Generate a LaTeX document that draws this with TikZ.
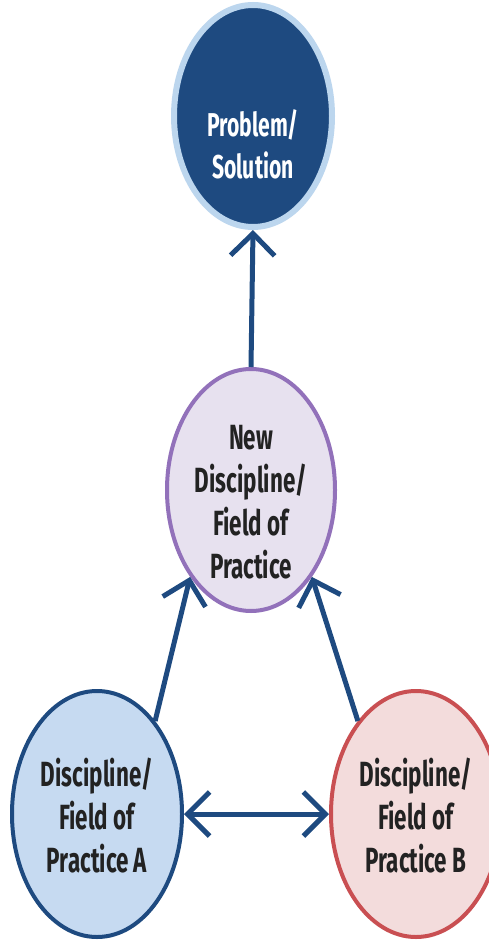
\documentclass[tikz,border=0pt]{standalone}
\usepackage{fontspec}
\setmainfont[FakeStretch=0.64]{Fira Sans}
\usetikzlibrary{arrows.meta,shapes.geometric}
\definecolor{darkblue}{HTML}{1E4A80}
\definecolor{glow}{HTML}{BCD6EE}
\definecolor{lavender}{HTML}{E7E1EF}
\definecolor{purpleline}{HTML}{9271BA}
\definecolor{lightblue}{HTML}{C6DAF1}
\definecolor{pinkfill}{HTML}{F3DCDC}
\definecolor{redline}{HTML}{C94F52}
\definecolor{txt}{HTML}{222222}
\tikzset{
  x=1pt,y=-1pt,
  bubble/.style={ellipse, draw, line width=4pt, inner sep=0pt},
  label text/.style={align=center, inner sep=0pt, text=txt,
    font=\fontsize{35}{43}\selectfont\bfseries},
  tip/.tip={Straight Barb[length=22pt,width=44pt,line width=5pt]},
  conn/.style={draw=darkblue, line width=5pt, -tip},
  conn2/.style={draw=darkblue, line width=5pt, tip-tip}
}
\begin{document}
\begin{tikzpicture}
\useasboundingbox (0,0) rectangle (489,941);
\fill[white] (0,0) rectangle (489,941);
\begin{scope}
\clip (0,0) rectangle (489,941);
\node[bubble, draw=glow, line width=6pt, fill=darkblue, minimum width=158pt, minimum height=222pt] (top) at (253,116) {};
\node[bubble, draw=purpleline, fill=lavender, minimum width=168pt, minimum height=242pt] (mid) at (251,490) {};
\node[bubble, draw=darkblue, fill=lightblue, minimum width=170pt, minimum height=246pt] (a) at (97,814) {};
\node[bubble, draw=redline, fill=pinkfill, minimum width=170pt, minimum height=246pt] (b) at (416,814) {};
\end{scope}
\node[label text, text=white, font=\fontsize{33}{42}\selectfont\bfseries] (toptext) at (253,144) {Problem/\\Solution};
\node[label text] (midtext) at (251,502) {New\\Discipline/\\Field of\\Practice};
\node[label text] (atext) at (97,816) {Discipline/\\Field of\\Practice A};
\node[label text] (btext) at (416,816) {Discipline/\\Field of\\Practice B};
\draw[conn] (mid.north) -- (top.south);
\draw[conn] (a.58) -- (mid.235);
\draw[conn] (b.122) -- (mid.305);
\draw[conn2] (a.east) -- (b.west);
\end{tikzpicture}
\end{document}
